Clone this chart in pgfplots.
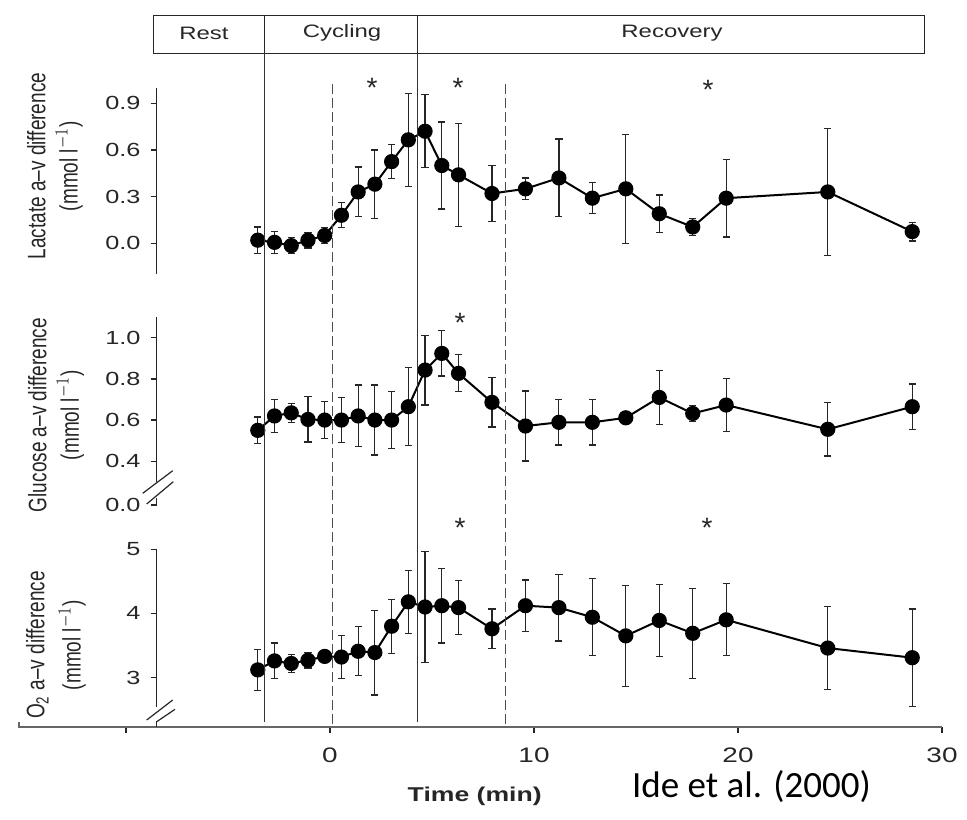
\documentclass[border=0pt]{standalone}
\usepackage{pgfplots}
\usepackage{pgfplotstable}
\pgfplotsset{compat=1.18}
\usepackage{graphicx}
\usepackage{fontspec}
\setmainfont{Liberation Sans}
\newfontfamily\calibri{Carlito}
\newcommand{\sx}[1]{\scalebox{1.33}[1]{#1}}
\newcommand{\sy}[1]{\scalebox{1}[1.33]{#1}}
\definecolor{ink}{gray}{0.15}

\pgfplotstableread{
t v e
-3.54 0.020 0.085
-2.72 0.006 0.070
-1.90 -0.015 0.050
-1.08 0.020 0.050
-0.26 0.050 0.050
0.56 0.180 0.080
1.38 0.330 0.160
2.20 0.380 0.220
3.02 0.525 0.110
3.84 0.665 0.300
4.66 0.720 0.235
5.48 0.500 0.280
6.30 0.440 0.330
7.94 0.320 0.180
9.58 0.350 0.070
11.22 0.420 0.250
12.86 0.290 0.100
14.50 0.350 0.350
16.14 0.190 0.120
17.78 0.105 0.055
19.42 0.290 0.250
24.40 0.330 0.410
28.54 0.075 0.060
}\lac

\pgfplotstableread{
t v e
-3.54 0.550 0.065
-2.72 0.620 0.080
-1.90 0.635 0.045
-1.08 0.603 0.110
-0.26 0.600 0.090
0.56 0.600 0.110
1.38 0.620 0.150
2.20 0.600 0.170
3.02 0.600 0.140
3.84 0.665 0.190
4.66 0.843 0.170
5.48 0.924 0.110
6.30 0.827 0.090
7.94 0.686 0.120
9.58 0.571 0.170
11.22 0.589 0.110
12.86 0.589 0.110
14.50 0.611 0.012
16.14 0.710 0.130
17.78 0.632 0.040
19.42 0.673 0.130
24.40 0.555 0.130
28.54 0.665 0.110
}\glu

\pgfplotstableread{
t v e
-3.54 3.12 0.32
-2.72 3.26 0.28
-1.90 3.22 0.14
-1.08 3.27 0.12
-0.26 3.33 0.09
0.56 3.32 0.34
1.38 3.41 0.38
2.20 3.39 0.66
3.02 3.80 0.42
3.84 4.18 0.49
4.66 4.10 0.86
5.48 4.12 0.58
6.30 4.09 0.42
7.94 3.76 0.31
9.58 4.12 0.40
11.22 4.09 0.52
12.86 3.94 0.60
14.50 3.65 0.79
16.14 3.89 0.56
17.78 3.69 0.70
19.42 3.90 0.56
24.40 3.46 0.65
28.54 3.31 0.76
}\oxy

\pgfplotsset{
  panel/.style={
    anchor=south west, scale only axis, width=392.7pt,
    xmin=-8.5, xmax=30, clip=false,
    axis x line=none, axis y line*=left,
    tick align=outside, major tick length=3pt,
    y axis line style={ink, line width=0.6pt},
    ytick style={ink, line width=0.6pt},
    yticklabel style={font=\fontsize{9.5}{10}\selectfont, text=ink, xshift=-1.5pt},
    ylabel style={font=\fontsize{9.5}{11}\selectfont, text=ink, align=center, anchor=center},
  },
  series/.style={
    black, line width=1pt, mark=*, mark size=3.3pt, mark options={fill=black, solid},
    error bars/.cd, y dir=both, y explicit,
    error bar style={ink, line width=0.6pt},
    error mark options={rotate=90, mark size=1.8pt, ink, line width=0.6pt},
  },
}

\begin{document}
\begin{tikzpicture}
\begin{scope}[x=0.5pt, y=-0.5pt]
  \path[use as bounding box] (0,0) rectangle (967,819);
\end{scope}

% frame axis: shared time axis
\begin{axis}[
  at={(12pt,-363.5pt)}, anchor=south west, scale only axis,
  width=459pt, height=356pt,
  xmin=-15, xmax=30, ymin=-727, ymax=-15,
  axis x line*=bottom, axis y line=none, clip=false,
  xtick={-10,0,10,20,30},
  xticklabels={,\sx{0},\sx{10},\sx{20},\sx{30}},
  tick align=outside, major tick length=3pt,
  x axis line style={black!60, line width=0.7pt},
  xtick style={ink, line width=0.6pt},
  xticklabel style={font=\fontsize{10.5}{12}\selectfont, text=ink, yshift=-4pt},
  xlabel={\sx{\bfseries Time (min)}},
  xlabel style={at={(axis description cs:0.491,-0.098)}, anchor=center, font=\fontsize{10}{12}\selectfont, text=ink},
]
\end{axis}

% Lactate
\begin{axis}[panel, at={(78.3pt,-137.2pt)}, height=93.35pt,
  ymin=-0.2, ymax=1.0,
  ytick={0,0.3,0.6,0.9},
  yticklabels={\sx{0.0},\sx{0.3},\sx{0.6},\sx{0.9}},
  ylabel={\sy{Lactate a--v difference}\\[4pt]\sy{(mmol l$^{-1}$)}},
  ylabel style={at={(axis description cs:-0.1294,0.58)}},
]
\addplot[series] table[x=t, y=v, y error=e] {\lac};
\end{axis}

% Glucose
\begin{axis}[panel, at={(78.3pt,-252.5pt)}, height=93.9pt,
  ymin=0.187, ymax=1.1,
  y axis line style={draw=none},
  ytick={0.187,0.4,0.6,0.8,1.0},
  yticklabels={\sx{0.0},\sx{0.4},\sx{0.6},\sx{0.8},\sx{1.0}},
  ylabel={\sy{Glucose a--v difference}\\[4pt]\sy{(mmol l$^{-1}$)}},
  ylabel style={at={(axis description cs:-0.128,0.479)}},
]
\addplot[series] table[x=t, y=v, y error=e] {\glu};
\end{axis}

% O2
\begin{axis}[panel, at={(78.3pt,-363.5pt)}, height=88.9pt,
  ymin=2.23, ymax=5.0,
  y axis line style={draw=none},
  ytick={3,4,5},
  yticklabels={\sx{3},\sx{4},\sx{5}},
  ylabel={\sy{O\textsubscript{2} a--v difference}\\[4pt]\sy{(mmol l$^{-1}$)}},
  ylabel style={at={(axis description cs:-0.128,0.461)}},
]
\addplot[series] table[x=t, y=v, y error=e] {\oxy};
\end{axis}

\begin{scope}[x=0.5pt, y=-0.5pt]
  % banner
  \draw[ink, line width=0.5pt] (153,15) rectangle (924,53);
  \draw[ink, line width=0.5pt] (264.5,15) -- (264.5,53);
  \draw[ink, line width=0.5pt] (417,15) -- (417,53);
  \node[font=\fontsize{9}{10}\selectfont, text=ink] at (204,33) {\sx{Rest}};
  \node[font=\fontsize{9}{10}\selectfont, text=ink] at (342,33) {\sx{Cycling}};
  \node[font=\fontsize{9}{10}\selectfont, text=ink] at (672,33) {\sx{Recovery}};
  % phase lines
  \draw[black!80, line width=0.5pt] (264.5,53) -- (264.5,722);
  \draw[black!80, line width=0.5pt] (417,53) -- (417,722);
  \draw[black!70, line width=0.5pt, dash pattern=on 5pt off 2pt] (332,84) -- (332,727);
  \draw[black!70, line width=0.5pt, dash pattern=on 5pt off 2pt] (505,84) -- (505,727);
  % axis line pieces and breaks
  \draw[ink, line width=0.6pt] (156.6,317.2) -- (156.6,481.7);
  \draw[ink, line width=0.6pt] (156.6,498) -- (156.6,505);
  \draw[ink, line width=0.6pt] (142.7,493.3) -- (172.7,470.7);
  \draw[ink, line width=0.6pt] (146.7,504) -- (173.3,481.7);
  \draw[ink, line width=0.6pt] (156.6,549.2) -- (156.6,707);
  \draw[ink, line width=0.6pt] (156.6,721) -- (156.6,727);
  \draw[ink, line width=0.6pt] (146.7,720) -- (172.7,700);
  \draw[ink, line width=0.6pt] (156.7,721.7) -- (175,709.3);
  \draw[black!60, line width=0.6pt] (24,727) -- (19,727) -- (19,722);
  % asterisks
  \foreach \ax/\ay in {372/80, 458/80, 708/82, 460/315, 460/520, 707/520}{
    \node[anchor=base, inner sep=0pt, font=\fontsize{14}{14}\selectfont, text=ink] at (\ax,\ay+17) {*};
  }
  % source
  \node[anchor=base west, inner sep=0pt, font=\calibri\fontsize{18.5}{20}\selectfont] at (631.7,797) {Ide et al. (2000)};
\end{scope}
\end{tikzpicture}
\end{document}
